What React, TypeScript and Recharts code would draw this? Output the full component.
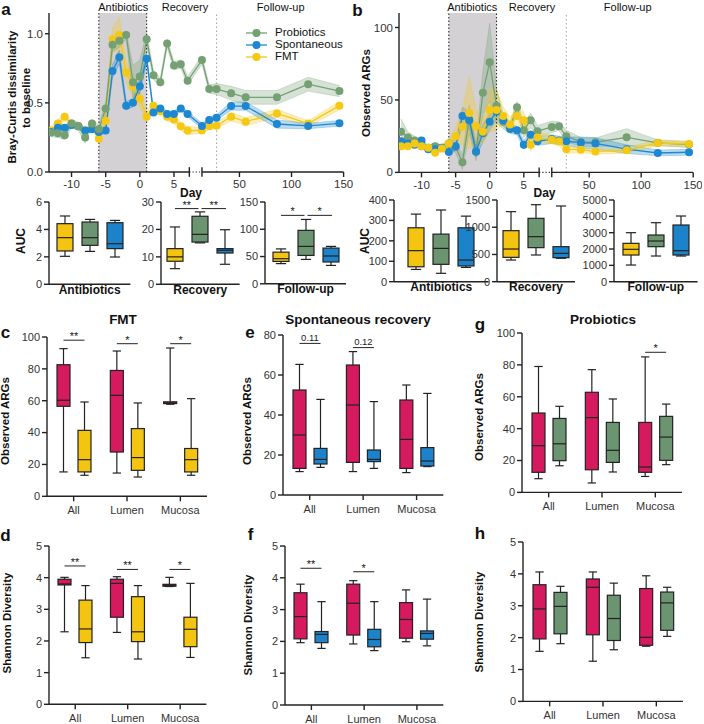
import React from 'react';
import {
  ComposedChart,
  Line,
  Area,
  Bar,
  XAxis,
  YAxis,
  ReferenceArea,
  ReferenceLine,
} from 'recharts';

type Five = [number, number, number, number, number]; // min, q1, median, q3, max

const FONT = '"Liberation Sans", Arial, Helvetica, sans-serif';
const INK = '#222';
const GREEN = '#74a073';
const BLUE = '#1d88d1';
const YELLOW = '#f5c814';
const BOX_GREEN = '#6b9470';
const BOX_BLUE = '#1c83ca';
const BOX_YELLOW = '#f3c511';
const PINK = '#d51a5f';

// ---------- time course (panels a, b) ----------
const days = [-13, -12, -11, -10, -9, -8, -7, -6, -5, -4, -3, -2, -1, 0, 1, 2, 3, 4, 5, 6, 7, 14, 21, 28, 42, 56, 86, 116, 146];
const xTickDays = [-10, -5, 0, 5, 50, 100, 150];
const legendNames = ['Probiotics', 'Spontaneous', 'FMT'];

const brayPro = [0.285, 0.28, 0.265, 0.35, 0.33, 0.25, 0.35, 0.31, 0.46, 0.92, 0.95, 0.99, 0.65, 0.69, 0.96, 0.7, 0.65, 0.93, 0.77, 0.78, 0.66, 0.81, 0.6, 0.6, 0.57, 0.54, 0.54, 0.635, 0.585];
const brayProErr = [0.03, 0.03, 0.03, 0.03, 0.03, 0.04, 0.03, 0.03, 0.04, 0.05, 0.05, 0.03, 0.12, 0.12, 0.05, 0.03, 0.03, 0.03, 0.03, 0.03, 0.03, 0.03, 0.03, 0.04, 0.05, 0.05, 0.05, 0.05, 0.04];
const braySpo = [0.29, 0.32, 0.32, 0.34, 0.33, 0.3, 0.31, 0.29, 0.3, 0.73, 0.83, 0.48, 0.5, 0.62, 0.82, 0.43, 0.46, 0.42, 0.42, 0.46, 0.42, 0.333, 0.376, 0.393, 0.477, 0.477, 0.347, 0.333, 0.352];
const braySpoErr = [0.02, 0.02, 0.02, 0.02, 0.02, 0.02, 0.02, 0.02, 0.02, 0.05, 0.05, 0.03, 0.03, 0.05, 0.04, 0.02, 0.02, 0.02, 0.02, 0.02, 0.02, 0.02, 0.02, 0.02, 0.03, 0.03, 0.03, 0.02, 0.02];
const brayFmt = [0.3, 0.35, 0.4, 0.35, 0.33, 0.3, 0.33, 0.24, 0.37, 0.96, 0.99, 0.72, 0.62, 0.53, 0.4, 0.48, 0.44, 0.4, 0.38, 0.33, 0.3, 0.3, 0.33, 0.335, 0.4, 0.364, 0.424, 0.35, 0.48];
const brayFmtErr = [0.03, 0.03, 0.03, 0.02, 0.02, 0.02, 0.02, 0.03, 0.04, 0.08, 0.13, 0.08, 0.08, 0.06, 0.04, 0.03, 0.03, 0.03, 0.03, 0.03, 0.03, 0.02, 0.02, 0.02, 0.03, 0.03, 0.03, 0.02, 0.03];

const argPro = [28, 24, 22, 18, 17, 18, 17, 20, 17.5, 7, 36.5, 14, 55, 76, 46, 35, 31, 45, 29, 36, 28.4, 31.4, 31.9, 25, 21, 20.8, 24.2, 20.4, 19.2];
const argProErr = [9, 4, 3, 2, 2, 2, 2, 3, 4, 5, 10, 6, 15, 27, 12, 5, 4, 4, 5, 5, 4, 4, 3, 4, 3, 3, 6, 2, 2];
const argSpo = [21.5, 20, 19, 22, 16, 16, 17, 14, 18, 39, 36, 14.5, 27, 35, 42, 36, 30, 29, 19, 26, 21.5, 23, 22, 21.5, 20.5, 20, 16, 13.4, 13.9];
const argSpoErr = [2, 2, 2, 2, 2, 2, 2, 2, 3, 6, 6, 4, 6, 6, 6, 4, 3, 3, 3, 3, 3, 3, 3, 3, 4, 4, 3, 2, 2];
const argFmt = [18, 18, 20, 18, 17, 13.5, 16.5, 20, 25, 31.5, 41, 32, 28, 43, 43, 39, 33, 39, 36, 19, 24, 22.6, 21.5, 16, 15.7, 14.5, 15.2, 20.3, 19.6];
const argFmtErr = [2, 2, 2, 2, 2, 2, 2, 3, 6, 12, 25, 12, 8, 15, 14, 6, 5, 6, 6, 4, 4, 3, 3, 3, 2, 2, 2, 2, 2];

// ---------- AUC boxes under a and b ----------
const aucGroups = ['Antibiotics', 'Recovery', 'Follow-up'];
const aucBrayFmt: Five[] = [[2.04, 2.43, 3.4, 4.42, 4.98], [5.7, 8.4, 10, 13, 20.9], [37, 41, 46, 58, 64]];
const aucBrayPro: Five[] = [[2.4, 2.84, 3.4, 4.54, 4.73], [15.1, 15.4, 18.2, 24.8, 26.4], [44.7, 52, 68.6, 98, 118]];
const aucBraySpo: Five[] = [[1.99, 2.6, 2.96, 4.49, 4.66], [7.3, 11.4, 12.4, 13, 19.9], [33.7, 40, 51, 65.5, 68.6]];
const aucBraySig = ['', '**', '*'];
const aucBraySigY = [0, 27.6, 125.5];
const aucArgFmt: Five[] = [[60, 73, 152, 264, 331], [398, 447, 600, 937, 1286], [1020, 1633, 1980, 2347, 3000]];
const aucArgPro: Five[] = [[41, 85, 163, 233, 351], [490, 625, 827, 1163, 1414], [1571, 2143, 2490, 2857, 3612]];
const aucArgSpo: Five[] = [[70, 77, 106, 264, 321], [430, 441, 520, 643, 1390], [1571, 1633, 1898, 3469, 4020]];

// ---------- panels c-h: baseline (pink) vs after treatment ----------
const sites = ['All', 'Lumen', 'Mucosa'];

const fmtArgsBase: Five[] = [[15.3, 56.5, 60.3, 82.6, 92.7], [14.6, 27.8, 63.4, 79, 91.2], [57.8, 58.2, 58.6, 59.3, 93.1]];
const fmtArgsPost: Five[] = [[13.2, 15.3, 23, 41.4, 59.2], [12.1, 16.3, 24.3, 42.5, 58.6], [13.2, 15.3, 23, 30, 61.3]];
const fmtArgsSig = ['**', '*', '*'];
const fmtArgsSigY = [98, 95.8, 95.8];
const fmtShanBase: Five[] = [[2.29, 3.77, 3.8, 3.95, 4.01], [2.27, 2.75, 3.82, 3.95, 4.03], [3.72, 3.73, 3.76, 3.79, 4.01]];
const fmtShanPost: Five[] = [[1.47, 1.95, 2.38, 3.29, 3.75], [1.43, 1.98, 2.29, 3.4, 3.75], [1.48, 1.82, 2.37, 2.75, 3.82]];
const fmtShanSig = ['**', '**', '*'];
const fmtShanSigY = [4.37, 4.26, 4.26];

const spoArgsBase: Five[] = [[11.7, 13.3, 30, 52.5, 65.3], [11.7, 16.3, 45, 65, 71.7], [11.2, 13.3, 27.8, 47.5, 55]];
const spoArgsPost: Five[] = [[13.8, 15.5, 17.8, 23.3, 47.8], [13.3, 16.7, 17.8, 22.5, 46.7], [14.2, 14.5, 17, 23.7, 50.8]];
const spoArgsSig = ['0.11', '0.12', ''];
const spoArgsSigY = [75.8, 73.7, 0];
const spoShanBase: Five[] = [[1.96, 2.08, 2.78, 3.53, 3.8], [1.92, 2.2, 3.2, 3.8, 3.91], [1.99, 2.1, 2.69, 3.22, 3.62]];
const spoShanPost: Five[] = [[1.78, 1.96, 2.22, 2.31, 3.25], [1.71, 1.83, 2.06, 2.38, 3.25], [1.86, 2.07, 2.25, 2.33, 3.33]];
const spoShanSig = ['**', '*', ''];
const spoShanSigY = [4.3, 4.19, 0];

const proArgsBase: Five[] = [[8.6, 12.6, 29.3, 49.8, 79], [5.9, 14.2, 46.9, 62.8, 77], [10, 12.6, 15.9, 43.9, 85]];
const proArgsPost: Five[] = [[16.7, 19.9, 30.5, 46.4, 54], [12.8, 18.8, 26.4, 43.9, 58.6], [17.4, 20.1, 34.7, 47.7, 55.4]];
const proArgsSig = ['', '', '*'];
const proArgsSigY = [0, 0, 87.9];
const proShanBase: Five[] = [[1.57, 1.96, 2.9, 3.66, 4.06], [1.26, 2.09, 3.58, 3.84, 4.06], [1.73, 1.76, 2.01, 3.54, 3.94]];
const proShanPost: Five[] = [[1.81, 2.12, 2.98, 3.42, 3.61], [1.62, 1.91, 2.6, 3.33, 3.71], [2.04, 2.23, 3.09, 3.43, 3.58]];

// broken x axis: days up to a week are drawn 1:1, later days are squeezed
const BREAK_LO = 7.25;
const BREAK_HI = 9.1;
const LATE_SCALE = 0.1525;
const X_MIN = -13.3;
const X_MAX = 30;
const toAxis = (d: number) => (d <= BREAK_LO ? d : BREAK_HI + (d - 14) * LATE_SCALE);
const xTickPos = xTickDays.map(toAxis);

function courseRows(pro: number[], proE: number[], spo: number[], spoE: number[], fmt: number[], fmtE: number[]) {
  return days.map((d, i) => ({
    x: toAxis(d),
    pro: pro[i],
    proBand: [pro[i] - proE[i], pro[i] + proE[i]],
    spo: spo[i],
    spoBand: [spo[i] - spoE[i], spo[i] + spoE[i]],
    fmt: fmt[i],
    fmtBand: [fmt[i] - fmtE[i], fmt[i] + fmtE[i]],
  }));
}

const brayRows = courseRows(brayPro, brayProErr, braySpo, braySpoErr, brayFmt, brayFmtErr);
const argRows = courseRows(argPro, argProErr, argSpo, argSpoErr, argFmt, argFmtErr);

const seriesColor: Record<string, string> = { pro: GREEN, spo: BLUE, fmt: YELLOW };

function TimeCourse({ rows, rect, yMax, yTicks, yFmt, order, nub }: any) {
  const yw = 44, xh = 26, mt = 6, mr = 8;
  const w = rect.r - rect.l + yw + mr;
  const h = rect.b - rect.t + mt + xh;
  const axisStroke = { stroke: INK, strokeWidth: 1.4 };
  return (
    <div style={{ position: 'absolute', left: rect.l - yw, top: rect.t - mt }}>
      <ComposedChart width={w} height={h} data={rows} margin={{ top: mt, right: mr, bottom: 0, left: 0 }}>
        <XAxis
          type="number"
          dataKey="x"
          domain={[X_MIN, X_MAX]}
          allowDataOverflow
          ticks={xTickPos}
          interval={0}
          tickFormatter={(v: number) => {
            const i = xTickPos.findIndex((p) => Math.abs(p - v) < 1e-6);
            return i >= 0 ? String(xTickDays[i]) : '';
          }}
          axisLine={false}
          tickLine={axisStroke}
          tickSize={5}
          tickMargin={3}
          tick={{ fontSize: 11.5, fill: '#333' }}
          height={xh}
        />
        <YAxis
          type="number"
          domain={[0, yMax]}
          allowDataOverflow
          ticks={yTicks}
          interval={0}
          tickFormatter={yFmt}
          width={yw}
          axisLine={axisStroke}
          tickLine={axisStroke}
          tickSize={4}
          tickMargin={2}
          tick={{ fontSize: 11.5, fill: '#333' }}
        />
        <ReferenceArea x1={-6} x2={1} fill="#d4d1d4" fillOpacity={1} stroke="none" />
        <ReferenceLine x={-6} stroke="#333" strokeWidth={1.1} strokeDasharray="1.5 2" />
        <ReferenceLine x={1} stroke="#333" strokeWidth={1.1} strokeDasharray="1.5 2" />
        <ReferenceLine x={toAxis(28)} stroke="#aaa" strokeWidth={1.1} strokeDasharray="1.5 2.5" />
        {order.map((k: string) => (
          <Area
            key={k + 'band'}
            type="linear"
            dataKey={k + 'Band'}
            stroke={seriesColor[k]}
            strokeOpacity={0.35}
            strokeWidth={0.8}
            fill={seriesColor[k]}
            fillOpacity={0.3}
            dot={false}
            activeDot={false}
            isAnimationActive={false}
          />
        ))}
        {order.map((k: string) => (
          <Line
            key={k}
            type="linear"
            dataKey={k}
            stroke={seriesColor[k]}
            strokeWidth={1.3}
            dot={{ r: 4, fill: seriesColor[k], stroke: seriesColor[k], strokeWidth: 0 }}
            activeDot={false}
            isAnimationActive={false}
          />
        ))}
        <ReferenceLine segment={[{ x: X_MIN, y: 0 }, { x: BREAK_LO, y: 0 }]} stroke={INK} strokeWidth={1.4} ifOverflow="visible" />
        <ReferenceLine segment={[{ x: BREAK_LO, y: 0 }, { x: BREAK_HI, y: 0 }]} stroke={INK} strokeWidth={1.2} strokeDasharray="1.2 2" ifOverflow="visible" />
        <ReferenceLine segment={[{ x: BREAK_HI, y: 0 }, { x: toAxis(150), y: 0 }]} stroke={INK} strokeWidth={1.4} ifOverflow="visible" />
        <ReferenceLine segment={[{ x: BREAK_LO, y: -nub }, { x: BREAK_LO, y: nub }]} stroke={INK} strokeWidth={1.4} ifOverflow="visible" />
        <ReferenceLine segment={[{ x: BREAK_HI, y: -nub }, { x: BREAK_HI, y: nub }]} stroke={INK} strokeWidth={1.4} ifOverflow="visible" />
      </ComposedChart>
    </div>
  );
}

// ---------- box drawing ----------
function drawBox(p: any, s: Five, fill: string) {
  const { x, y, width, height } = p;
  const top = Math.min(y, y + height);
  const span = Math.abs(height);
  const py = (v: number) => top + (span * (s[4] - v)) / (s[4] - s[0]);
  const cx = x + width / 2;
  const cap = width * 0.32;
  const q3 = py(s[3]);
  const q1 = py(s[1]);
  const el = (
    <g>
      <line x1={cx} x2={cx} y1={py(s[4])} y2={q3} stroke={INK} strokeWidth={1.2} />
      <line x1={cx} x2={cx} y1={q1} y2={py(s[0])} stroke={INK} strokeWidth={1.2} />
      <line x1={cx - cap} x2={cx + cap} y1={py(s[4])} y2={py(s[4])} stroke={INK} strokeWidth={1.2} />
      <line x1={cx - cap} x2={cx + cap} y1={py(s[0])} y2={py(s[0])} stroke={INK} strokeWidth={1.2} />
      <rect x={x} y={q3} width={width} height={Math.max(q1 - q3, 0.6)} fill={fill} stroke={INK} strokeWidth={1.2} />
      <line x1={x} x2={x + width} y1={py(s[2])} y2={py(s[2])} stroke={INK} strokeWidth={1.2} />
    </g>
  );
  return { el, py, cx };
}

function sigMark(x1: number, x2: number, yy: number, label: string, key: string) {
  const isP = /\d/.test(label);
  return (
    <g key={key}>
      <line x1={x1} x2={x2} y1={yy} y2={yy} stroke={INK} strokeWidth={1} />
      <text x={(x1 + x2) / 2} y={yy - (isP ? 2.5 : 0)} textAnchor="middle" fontSize={isP ? 9.5 : 11} fill="#222">
        {label}
      </text>
    </g>
  );
}

function PairBox({ rect, base, post, postFill, yMax, yTicks, sig, sigY }: any) {
  const yw = 36, xh = 24, mt = 14, mr = 4;
  const barSize = 13, gap = 8;
  const rows = sites.map((c, i) => ({
    cat: c,
    base: base[i],
    post: post[i],
    baseRange: [base[i][0], base[i][4]],
    postRange: [post[i][0], post[i][4]],
    sig: sig ? sig[i] : '',
    sigY: sigY ? sigY[i] : 0,
  }));
  const w = rect.r - rect.l + yw + mr;
  const h = rect.b - rect.t + mt + xh;
  const axisStroke = { stroke: INK, strokeWidth: 1.4 };
  return (
    <div style={{ position: 'absolute', left: rect.l - yw, top: rect.t - mt }}>
      <ComposedChart width={w} height={h} data={rows} margin={{ top: mt, right: mr, bottom: 0, left: 0 }} barGap={gap}>
        <XAxis
          dataKey="cat"
          axisLine={axisStroke}
          tickLine={axisStroke}
          tickSize={5}
          tickMargin={5}
          tick={{ fontSize: 11, fill: '#333' }}
          height={xh}
          interval={0}
        />
        <YAxis
          type="number"
          domain={[0, yMax]}
          ticks={yTicks}
          interval={0}
          width={yw}
          axisLine={axisStroke}
          tickLine={axisStroke}
          tickSize={5}
          tickMargin={2}
          tick={{ fontSize: 11, fill: '#333' }}
        />
        <Bar
          dataKey="baseRange"
          barSize={barSize}
          isAnimationActive={false}
          shape={(p: any) => {
            const row = p.payload;
            const { el, py, cx } = drawBox(p, row.base, PINK);
            if (!row.sig) return el;
            return (
              <g>
                {el}
                {sigMark(cx, cx + p.width + gap, py(row.sigY), row.sig, 's')}
              </g>
            );
          }}
        />
        <Bar
          dataKey="postRange"
          barSize={barSize}
          isAnimationActive={false}
          shape={(p: any) => drawBox(p, p.payload.post, postFill).el}
        />
      </ComposedChart>
    </div>
  );
}

function AucBox({ rect, idx, fmt, pro, spo, yMax, yTicks, sig, sigY }: any) {
  const yw = 34, xh = 18, mt = 10, mr = 2;
  const barSize = 16, gap = 9;
  const rows = [
    {
      cat: aucGroups[idx],
      fmt: fmt[idx],
      pro: pro[idx],
      spo: spo[idx],
      fmtRange: [fmt[idx][0], fmt[idx][4]],
      proRange: [pro[idx][0], pro[idx][4]],
      spoRange: [spo[idx][0], spo[idx][4]],
      sig: sig ? sig[idx] : '',
      sigY: sigY ? sigY[idx] : 0,
    },
  ];
  const w = rect.r - rect.l + yw + mr;
  const h = rect.b - rect.t + mt + xh;
  const axisStroke = { stroke: INK, strokeWidth: 1.4 };
  return (
    <div style={{ position: 'absolute', left: rect.l - yw, top: rect.t - mt }}>
      <ComposedChart width={w} height={h} data={rows} margin={{ top: mt, right: mr, bottom: 0, left: 0 }} barGap={gap}>
        <XAxis
          dataKey="cat"
          axisLine={axisStroke}
          tickLine={false}
          tickSize={0}
          tickMargin={1}
          tick={{ fontSize: 12, fontWeight: 700, fill: '#111' }}
          height={xh}
        />
        <YAxis
          type="number"
          domain={[0, yMax]}
          ticks={yTicks}
          interval={0}
          width={yw}
          axisLine={axisStroke}
          tickLine={axisStroke}
          tickSize={5}
          tickMargin={2}
          tick={{ fontSize: 11, fill: '#333' }}
        />
        <Bar dataKey="fmtRange" barSize={barSize} isAnimationActive={false} shape={(p: any) => drawBox(p, p.payload.fmt, BOX_YELLOW).el} />
        <Bar
          dataKey="proRange"
          barSize={barSize}
          isAnimationActive={false}
          shape={(p: any) => {
            const row = p.payload;
            const { el, py, cx } = drawBox(p, row.pro, BOX_GREEN);
            if (!row.sig) return el;
            const step = p.width + gap;
            const yy = py(row.sigY);
            return (
              <g>
                {el}
                {sigMark(cx - step, cx - 1.5, yy, row.sig, 'l')}
                {sigMark(cx + 1.5, cx + step + 1, yy, row.sig, 'r')}
              </g>
            );
          }}
        />
        <Bar dataKey="spoRange" barSize={barSize} isAnimationActive={false} shape={(p: any) => drawBox(p, p.payload.spo, BOX_BLUE).el} />
      </ComposedChart>
    </div>
  );
}

function Txt({ x, y, children, size = 11, bold = false, rotate = false }: any) {
  return (
    <div
      style={{
        position: 'absolute',
        left: x,
        top: y,
        transform: `translate(-50%, -50%)${rotate ? ' rotate(-90deg)' : ''}`,
        fontSize: size,
        fontWeight: bold ? 700 : 400,
        whiteSpace: 'nowrap',
        lineHeight: 1,
        color: '#111',
      }}
    >
      {children}
    </div>
  );
}

const legendColors = [GREEN, BLUE, YELLOW];
const legendRowY = [32.7, 44.5, 56.7];

export default function App() {
  return (
    <div
      style={{
        position: 'absolute',
        left: 0,
        top: 0,
        width: 704,
        height: 724,
        overflow: 'hidden',
        background: '#fff',
        fontFamily: FONT,
      }}
    >
      {/* a */}
      <TimeCourse rows={brayRows} rect={{ l: 49.3, t: 13.3, r: 345, b: 172.3 }} yMax={1.15} yTicks={[0, 0.5, 1]} yFmt={(v: number) => v.toFixed(1)} order={['fmt', 'spo', 'pro']} nub={0.035} />
      {/* b */}
      <TimeCourse rows={argRows} rect={{ l: 398.7, t: 13.3, r: 694, b: 172.7 }} yMax={110} yTicks={[0, 50, 100]} yFmt={(v: number) => String(v)} order={['pro', 'spo', 'fmt']} nub={3.4} />

      <AucBox rect={{ l: 49.3, t: 201.7, r: 130.7, b: 284 }} idx={0} fmt={aucBrayFmt} pro={aucBrayPro} spo={aucBraySpo} yMax={6} yTicks={[0, 2, 4, 6]} sig={aucBraySig} sigY={aucBraySigY} />
      <AucBox rect={{ l: 160.7, t: 201.7, r: 239.3, b: 284 }} idx={1} fmt={aucBrayFmt} pro={aucBrayPro} spo={aucBraySpo} yMax={30} yTicks={[0, 10, 20, 30]} sig={aucBraySig} sigY={aucBraySigY} />
      <AucBox rect={{ l: 265, t: 201.7, r: 346, b: 283.5 }} idx={2} fmt={aucBrayFmt} pro={aucBrayPro} spo={aucBraySpo} yMax={150} yTicks={[0, 50, 100, 150]} sig={aucBraySig} sigY={aucBraySigY} />
      <AucBox rect={{ l: 393.7, t: 200, r: 488.3, b: 281.7 }} idx={0} fmt={aucArgFmt} pro={aucArgPro} spo={aucArgSpo} yMax={400} yTicks={[0, 100, 200, 300, 400]} />
      <AucBox rect={{ l: 497, t: 200, r: 575, b: 281.7 }} idx={1} fmt={aucArgFmt} pro={aucArgPro} spo={aucArgSpo} yMax={1500} yTicks={[0, 500, 1000, 1500]} />
      <AucBox rect={{ l: 613.7, t: 200, r: 697.3, b: 281.7 }} idx={2} fmt={aucArgFmt} pro={aucArgPro} spo={aucArgSpo} yMax={5000} yTicks={[0, 1000, 2000, 3000, 4000, 5000]} />

      {/* c-h */}
      <PairBox rect={{ l: 46.7, t: 336.7, r: 206.7, b: 496 }} base={fmtArgsBase} post={fmtArgsPost} postFill={BOX_YELLOW} yMax={100} yTicks={[0, 20, 40, 60, 80, 100]} sig={fmtArgsSig} sigY={fmtArgsSigY} />
      <PairBox rect={{ l: 49.3, t: 546, r: 206.7, b: 704.3 }} base={fmtShanBase} post={fmtShanPost} postFill={BOX_YELLOW} yMax={5} yTicks={[0, 1, 2, 3, 4, 5]} sig={fmtShanSig} sigY={fmtShanSigY} />
      <PairBox rect={{ l: 282.7, t: 335, r: 443, b: 495 }} base={spoArgsBase} post={spoArgsPost} postFill={BOX_BLUE} yMax={80} yTicks={[0, 20, 40, 60, 80]} sig={spoArgsSig} sigY={spoArgsSigY} />
      <PairBox rect={{ l: 285, t: 546, r: 443.3, b: 705 }} base={spoShanBase} post={spoShanPost} postFill={BOX_BLUE} yMax={5} yTicks={[0, 1, 2, 3, 4, 5]} sig={spoShanSig} sigY={spoShanSigY} />
      <PairBox rect={{ l: 521.7, t: 333.3, r: 681.7, b: 492.7 }} base={proArgsBase} post={proArgsPost} postFill={BOX_GREEN} yMax={100} yTicks={[0, 20, 40, 60, 80, 100]} sig={proArgsSig} sigY={proArgsSigY} />
      <PairBox rect={{ l: 522.7, t: 542.3, r: 682.7, b: 701.7 }} base={proShanBase} post={proShanPost} postFill={BOX_GREEN} yMax={5} yTicks={[0, 1, 2, 3, 4, 5]} />

      {/* headers and legend of a, b */}
      <Txt x={123.3} y={6.5}>Antibiotics</Txt>
      <Txt x={185} y={6.5}>Recovery</Txt>
      <Txt x={280.7} y={6.5}>Follow-up</Txt>
      <Txt x={472.3} y={6.5}>Antibiotics</Txt>
      <Txt x={532} y={6.5}>Recovery</Txt>
      <Txt x={627.7} y={6.5}>Follow-up</Txt>
      {legendNames.map((n, i) => (
        <div key={n} style={{ position: 'absolute', left: 246, top: legendRowY[i] - 6, height: 12, display: 'flex', alignItems: 'center' }}>
          <svg width={22} height={12}>
            <line x1={0} x2={21} y1={6} y2={6} stroke={legendColors[i]} strokeWidth={1.3} />
            <circle cx={10.5} cy={6} r={4} fill={legendColors[i]} />
          </svg>
          <span style={{ marginLeft: 7, fontSize: 11.5, color: '#111', lineHeight: 1 }}>{n}</span>
        </div>
      ))}

      {/* axis titles */}
      <Txt x={12.5} y={97} size={11.5} bold rotate>Bray-Curtis dissimilarity</Txt>
      <Txt x={27} y={98} size={11.5} bold rotate>to baseline</Txt>
      <Txt x={367} y={93} size={11.5} bold rotate>Observed ARGs</Txt>
      <Txt x={191} y={192.5} size={12} bold>Day</Txt>
      <Txt x={544.5} y={192.5} size={12} bold>Day</Txt>
      <Txt x={20.8} y={241} size={12} bold rotate>AUC</Txt>
      <Txt x={365} y={241} size={12} bold rotate>AUC</Txt>

      <Txt x={123} y={320} size={13.5} bold>FMT</Txt>
      <Txt x={358} y={320} size={13.5} bold>Spontaneous recovery</Txt>
      <Txt x={603} y={320} size={13.5} bold>Probiotics</Txt>

      <Txt x={6} y={421} size={11.5} bold rotate>Observed ARGs</Txt>
      <Txt x={248.3} y={420.7} size={11.5} bold rotate>Observed ARGs</Txt>
      <Txt x={480} y={417} size={11.5} bold rotate>Observed ARGs</Txt>
      <Txt x={7.5} y={623} size={11.5} bold rotate>Shannon Diversity</Txt>
      <Txt x={249} y={625} size={11.5} bold rotate>Shannon Diversity</Txt>
      <Txt x={480} y={622} size={11.5} bold rotate>Shannon Diversity</Txt>

      {/* panel letters */}
      <Txt x={6} y={8.6} size={17} bold>a</Txt>
      <Txt x={357.5} y={10} size={17} bold>b</Txt>
      <Txt x={5.5} y={332} size={17} bold>c</Txt>
      <Txt x={5.5} y={535} size={17} bold>d</Txt>
      <Txt x={250} y={332} size={17} bold>e</Txt>
      <Txt x={250.7} y={534} size={17} bold>f</Txt>
      <Txt x={480} y={324} size={17} bold>g</Txt>
      <Txt x={480} y={533} size={17} bold>h</Txt>
    </div>
  );
}
